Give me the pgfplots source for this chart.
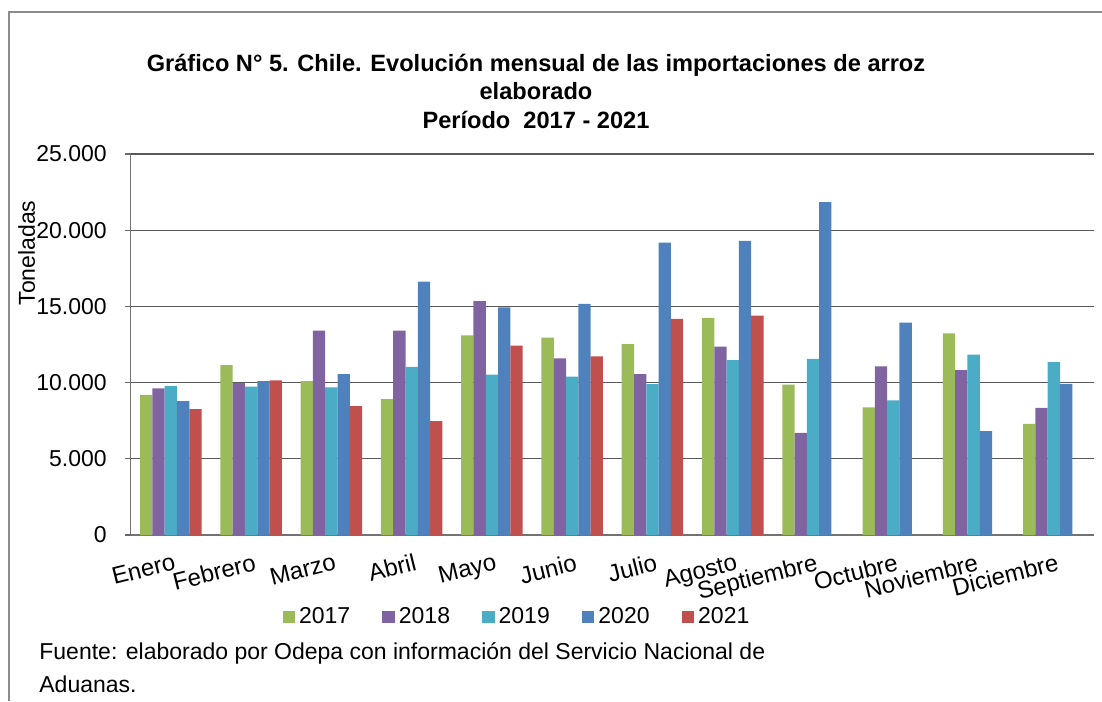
\documentclass[border=0pt]{standalone}
\usepackage{fontspec}
\setmainfont{Liberation Sans}
\usepackage{pgfplots}
\pgfplotsset{compat=1.18}
\definecolor{c17}{HTML}{9BBB59}
\definecolor{c18}{HTML}{8064A2}
\definecolor{c19}{HTML}{4BACC6}
\definecolor{c20}{HTML}{4F81BD}
\definecolor{c21}{HTML}{C0504D}
\begin{document}
\fontsize{11.5}{14}\selectfont
\begin{tikzpicture}
\useasboundingbox (0,0) rectangle (551pt,-350.5pt);
% outer frame (only top and left visible)
\draw[black!45, line width=1pt] (4.25pt,-350.5pt) -- (4.25pt,-6pt) -- (551pt,-6pt);
\begin{axis}[
  at={(65.35pt,-267.5pt)}, anchor=south west,
  scale only axis, width=481.65pt, height=190.5pt,
  ybar=0pt, bar width=6.15pt,
  xmin=-0.5, xmax=11.5, ymin=0, ymax=25000,
  axis lines=left, axis line style={-, black!55, line width=0.6pt},
  ytick={0,5000,...,25000},
  ymajorgrids, grid style={black!65, line width=0.6pt},
  scaled y ticks=false,
  yticklabel style={/pgf/number format/1000 sep={.}, /pgf/number format/assume math mode=true, xshift=-5pt},
  tick align=outside, major tick length=3pt, minor tick length=3.5pt,
  tick style={black!60, line width=0.6pt},
  xtick={0,...,11},
  xtick style={draw=none},
  minor xtick={-0.5,0.5,...,11.5},
  xticklabels={Enero,Febrero,Marzo,Abril,Mayo,Junio,Julio,Agosto,Septiembre,Octubre,Noviembre,Diciembre},
  xticklabel style={rotate=14, anchor=north east, inner sep=0.5pt, yshift=-5.5pt, font=\fontsize{12}{14}\selectfont},
  ylabel={Toneladas},
  ylabel style={at={(rel axis cs:-0.108,0.74)}, anchor=center, rotate=0},
  legend columns=-1,
  legend style={draw=none, fill=none, at={(rel axis cs:0.402,-0.215)}, anchor=center,
    /tikz/every even column/.append style={column sep=14pt},
    nodes={inner xsep=2pt}},
  legend image code/.code={\fill[#1] (0pt,-3pt) rectangle (6.3pt,3pt);},
]
\addplot[fill=c17, draw=none] coordinates {(0,9200) (1,11150) (2,10100) (3,8920) (4,13100) (5,12950) (6,12530) (7,14240) (8,9860) (9,8370) (10,13230) (11,7300)};
\addplot[fill=c18, draw=none] coordinates {(0,9620) (1,9990) (2,13410) (3,13410) (4,15340) (5,11590) (6,10560) (7,12360) (8,6700) (9,11060) (10,10820) (11,8340)};
\addplot[fill=c19, draw=none] coordinates {(0,9770) (1,9730) (2,9680) (3,11040) (4,10520) (5,10390) (6,9900) (7,11480) (8,11550) (9,8830) (10,11830) (11,11340)};
\addplot[fill=c20, draw=none] coordinates {(0,8790) (1,10100) (2,10560) (3,16630) (4,14940) (5,15160) (6,19190) (7,19300) (8,21840) (9,13930) (10,6810) (11,9910)};
\addplot[fill=c21, draw=none] coordinates {(0,8260) (1,10140) (2,8460) (3,7470) (4,12420) (5,11720) (6,14180) (7,14400)};
\legend{2017,2018,2019,2020,2021}
\end{axis}
\node[anchor=north, align=center, font=\fontsize{11.8}{14.2}\selectfont\bfseries, inner sep=0pt] at (268pt,-27pt)
  {Gráfico N° 5. Chile. Evolución mensual de las importaciones de arroz\\[-0.5pt] elaborado\\[0.5pt] Período\ \ 2017 - 2021};
\node[anchor=base west, inner sep=0pt] at (19.5pt,-329.5pt) {Fuente: elaborado por Odepa con información del Servicio Nacional de};
\node[anchor=base west, inner sep=0pt] at (19.5pt,-346pt) {Aduanas.};
\end{tikzpicture}
\end{document}
